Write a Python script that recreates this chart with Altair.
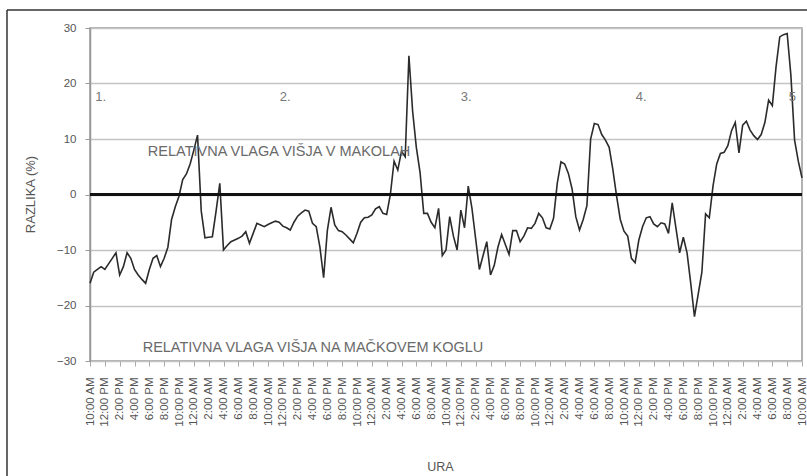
import json
import altair as alt
import pandas as pd

# Half-hourly difference in relative humidity (%), 96 hours starting at 10:00 AM
razlika = [
    -16, -14, -13.5, -13, -13.5, -12.5, -11.5, -10.5, -14.5, -13,
    -10.5, -11.5, -13.5, -14.5, -15.3, -16, -13.5, -11.5, -11, -13,
    -11.5, -9.5, -4.5, -2.2, -0.3, 2.7, 3.7, 5.5, 8, 10.7,
    -3, -7.8, -7.7, -7.6, -3, 2, -10, -9.2, -8.5, -8.2,
    -7.9, -7.5, -6.7, -8.8, -7, -5.2, -5.5, -5.8, -5.4, -5.1,
    -4.8, -5, -5.7, -6, -6.4, -5, -3.9, -3.3, -2.8, -3,
    -5.2, -5.8, -9.5, -15, -6.5, -2.3, -5.5, -6.5, -6.7, -7.3,
    -8, -8.7, -7, -5, -4.2, -4.1, -3.7, -2.6, -2.2, -3.4,
    -3.6, 0, 6, 4.4, 7.8, 6.8, 25, 15, 8.5, 4,
    -3.4, -3.4, -5, -6, -2.5, -11, -10, -4, -7.5, -10,
    -2.8, -6, 1.5, -2.5, -8, -13.5, -11, -8.5, -14.5, -12.8,
    -9.5, -7.2, -9, -10.8, -6.5, -6.5, -8.5, -7.5, -6, -6.1,
    -5.2, -3.4, -4.2, -6, -6.2, -4.3, 2, 5.9, 5.5, 3.8,
    1, -4, -6.4, -4.5, -2, 10, 12.8, 12.6, 10.8, 9.8,
    8.5, 4.5, -0.3, -4.5, -6.6, -7.5, -11.5, -12.3, -8.2, -5.8,
    -4.2, -4, -5.3, -5.8, -5.1, -5.3, -7, -1.5, -6, -10.5,
    -7.7, -10.5, -16, -22, -18, -14, -3.5, -4.2, 1.5, 5.5,
    7.4, 7.6, 8.8, 11.5, 13, 7.5, 12.5, 13.2, 11.6, 10.6,
    9.9, 10.8, 13, 17, 16, 23, 28.4, 28.8, 29, 21.5,
    9.8, 6, 3,
]
ure = [i * 0.5 for i in range(len(razlika))]

# Tick labels, one every two hours
tick_labels = [
    "10:00 AM", "12:00 PM", "2:00 PM", "4:00 PM", "6:00 PM", "8:00 PM",
    "10:00 PM", "12:00 AM", "2:00 AM", "4:00 AM", "6:00 AM", "8:00 AM",
    "10:00 AM", "12:00 PM", "2:00 PM", "4:00 PM", "6:00 PM", "8:00 PM",
    "10:00 PM", "12:00 AM", "2:00 AM", "4:00 AM", "6:00 AM", "8:00 AM",
    "10:00 AM", "12:00 PM", "2:00 PM", "4:00 PM", "6:00 PM", "8:00 PM",
    "10:00 PM", "12:00 AM", "2:00 AM", "4:00 AM", "6:00 AM", "8:00 AM",
    "10:00 AM", "12:00 PM", "2:00 PM", "4:00 PM", "6:00 PM", "8:00 PM",
    "10:00 PM", "12:00 AM", "2:00 AM", "4:00 AM", "6:00 AM", "8:00 AM",
    "10:00 AM",
]
tick_hours = [2 * i for i in range(len(tick_labels))]

# Period markers
period_labels = ["1.", "2.", "3.", "4.", "5"]
period_hours = [0.7, 25.6, 50.0, 73.6, 94.2]
period_y = [17.6, 17.6, 17.6, 17.6, 17.6]

# Region captions
caption_text = ["RELATIVNA VLAGA VIŠJA V MAKOLAH", "RELATIVNA VLAGA VIŠJA NA MAČKOVEM KOGLU"]
caption_hours = [7.8, 7.1]
caption_y = [7.7, -27.7]

FONT = "Liberation Sans"
GREY = "#555555"

df = pd.DataFrame({"ura": ure, "razlika": razlika})
periods = pd.DataFrame({"ura": period_hours, "y": period_y, "label": period_labels})
captions = pd.DataFrame({"ura": caption_hours, "y": caption_y, "label": caption_text})
zero = pd.DataFrame({"y": [0]})

label_expr = json.dumps(tick_labels) + "[datum.value / 2]"

x_scale = alt.Scale(domain=[0, 96], nice=False, zero=False)
y_scale = alt.Scale(domain=[-30, 30], nice=False)

x_axis = alt.Axis(
    values=tick_hours, labelExpr=label_expr, labelAngle=270,
    labelFont=FONT, labelFontSize=11.5, labelColor="#555",
    labelOverlap=False, labelFlush=False, labelBound=False,
    labelPadding=11, tickSize=5, tickColor="#aaa", domain=False, grid=False,
    title="URA", titleFont=FONT, titleFontSize=12.5, titleFontWeight="normal",
    titleColor=GREY, titleX=350, titleY=105, titleAnchor="middle",
    titleBaseline="middle",
)
y_axis = alt.Axis(
    values=[-30, -20, -10, 0, 10, 20, 30], labelFont=FONT, labelFontSize=11.5,
    labelColor="#555", labelPadding=9, tickSize=5, tickColor="#999",
    domainColor="#999", domainWidth=1.5, gridColor="#c4c4c4", gridWidth=1.5,
    title="RAZLIKA (%)", titleFont=FONT, titleFontSize=13,
    titleFontWeight="normal", titleColor=GREY, titleAngle=270,
    titleX=-60, titleY=166, titleAlign="center", titleBaseline="middle",
)

X = alt.X("ura:Q", scale=x_scale, axis=x_axis)

line = alt.Chart(df).mark_line(color="#2b2b2b", strokeWidth=1.6).encode(
    x=X,
    y=alt.Y("razlika:Q", scale=y_scale, axis=y_axis),
)

zero_line = alt.Chart(zero).mark_rule(color="#111", strokeWidth=3).encode(
    y=alt.Y("y:Q", scale=y_scale, axis=y_axis)
)

period_text = alt.Chart(periods).mark_text(
    font=FONT, fontSize=13, color="#777", align="left", baseline="middle"
).encode(
    x=X,
    y=alt.Y("y:Q", scale=y_scale, axis=y_axis),
    text="label:N",
)

caption_marks = alt.Chart(captions).mark_text(
    font=FONT, fontSize=14.5, color="#6a6a6a", align="left", baseline="middle"
).encode(
    x=X,
    y=alt.Y("y:Q", scale=y_scale, axis=y_axis),
    text="label:N",
)

# Outer frame around the figure
frame_top = alt.Chart(zero).mark_rule(color="#333", strokeWidth=1.5).encode(
    x=alt.value(-83), x2=alt.value(730), y=alt.value(-18), y2=alt.value(-18)
)
frame_left = alt.Chart(zero).mark_rule(color="#333", strokeWidth=1.5).encode(
    x=alt.value(-83), x2=alt.value(-83), y=alt.value(-18), y2=alt.value(460)
)

chart = alt.layer(
    line, zero_line, period_text, caption_marks, frame_top, frame_left
).properties(
    width=712, height=333,
    padding={"left": 90, "top": 28, "right": 5, "bottom": 115},
    autosize="none", background="white",
).configure_view(
    stroke="#999", strokeWidth=1.5
).configure_axisX(
    labelOverlap=False
)

chart.save("out.html", embed_options={"renderer": "svg", "actions": False})
